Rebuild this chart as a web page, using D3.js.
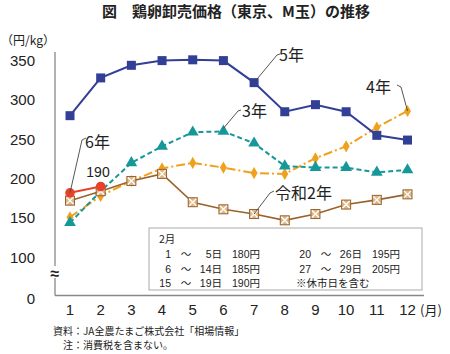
<!DOCTYPE html>
<html><head><meta charset="utf-8">
<script src="https://cdn.jsdelivr.net/npm/d3@7"></script>
<style>
body{margin:0;background:#fff;}
text{font-family:"Liberation Sans","Noto Sans CJK JP",sans-serif;}
.jp{font-family:"Noto Sans CJK JP","Noto Sans",sans-serif;}
</style></head>
<body><svg id="c" width="450" height="354"></svg>
<script>
const months = [1,2,3,4,5,6,7,8,9,10,11,12];
const yTicks = [0,100,150,200,250,300,350];
const r5 = [280,328,344,350,351,350,322,285,294,285,255,249];
const r3 = [144,184,220,241,259,260,245,216,214,214,208,211];
const r4 = [151,178,197,213,220,214,207,206,226,241,265,286];
const r2 = [172,184,197,206,170,161,155,147,155,167,173,180];
const r6 = [182,190];
const febHead = "2月";
const febRows = [["1","5","180"],["6","14","185"],["15","19","190"],["20","26","195"],["27","29","205"]];
const febNote = "※休市日を含む";

const svg = d3.select("#c");
const x = d3.scaleLinear().domain([1,12]).range([70,407.5]);
const y = d3.scaleLinear().domain([0,100,350]).range([296.5,257.3,60.6]);

// title
svg.append("text").attr("class","jp").attr("x",236).attr("y",17).attr("text-anchor","middle")
  .attr("font-size",15).attr("font-weight","bold").attr("fill","#222").text("図　鶏卵卸売価格（東京、M玉）の推移");
svg.append("text").attr("class","jp").attr("x",1).attr("y",45).attr("font-size",12).attr("fill","#222").text("（円/kg）");

// axes lines
svg.append("line").attr("x1",55).attr("x2",55).attr("y1",52).attr("y2",295.5).attr("stroke","#888").attr("stroke-width",1.3);
svg.append("line").attr("x1",55).attr("x2",424).attr("y1",295.5).attr("y2",295.5).attr("stroke","#888").attr("stroke-width",1.3);

// y tick labels
svg.selectAll(".yt").data(yTicks).join("text").attr("class","yt")
  .attr("x",35).attr("y",d=>y(d)+(d===0?2:0)).attr("dy","0.36em").attr("text-anchor","end")
  .attr("font-size",15).attr("fill","#222").text(d=>d);

// axis break
svg.append("rect").attr("x",48).attr("y",266).attr("width",14).attr("height",12).attr("fill","#fff");
svg.append("text").attr("x",55).attr("y",273).attr("dy","0.36em").attr("text-anchor","middle")
  .attr("font-size",16).attr("font-weight","bold").attr("fill","#222").text("≈");

// x tick labels
svg.selectAll(".xt").data(months).join("text").attr("class","xt")
  .attr("x",d=>x(d)).attr("y",310).attr("dy","0.36em").attr("text-anchor","middle")
  .attr("font-size",15).attr("fill","#222").text(d=>d);
svg.append("text").attr("class","jp").attr("x",420).attr("y",310).attr("dy","0.36em")
  .attr("font-size",13).attr("fill","#222").text("(月)");

// legend box
svg.append("rect").attr("x",149).attr("y",228).attr("width",273).attr("height",62)
  .attr("fill","#fff").attr("stroke","#aaa").attr("stroke-width",1);
const lg = svg.append("g").attr("class","jp").attr("font-size",10.5).attr("fill","#222");
lg.append("text").attr("x",159).attr("y",243).text(febHead).attr("class","jp");
febRows.forEach((r,i)=>{
  const col = i<3?0:1, row = i<3?i:i-3;
  const ox = col===0?0:140, oy = 258 + row*14.7;
  lg.append("text").attr("x",171+ox).attr("y",oy).attr("text-anchor","end").text(r[0]);
  lg.append("text").attr("x",186+ox).attr("y",oy).attr("text-anchor","middle").text("～");
  lg.append("text").attr("x",222+ox).attr("y",oy).attr("text-anchor","end").text(r[1]+"日");
  lg.append("text").attr("x",232+ox).attr("y",oy).text(r[2]+"円");
});
lg.append("text").attr("x",296).attr("y",258+2*14.7).text(febNote);

// lines
const line = d3.line().x((d,i)=>x(months[i])).y(d=>y(d));
function series(data,color,w,dash){
  svg.append("path").datum(data).attr("d",line).attr("fill","none").attr("stroke",color)
    .attr("stroke-width",w).attr("stroke-dasharray",dash||null);
}
const cBlue="#323f96", cTeal="#16989a", cOrange="#f0a01c", cBrown="#9a622c", cRed="#e8412a";
series(r4,cOrange,2,"9,3,2,3");
series(r3,cTeal,2,"5,3");
series(r2,cBrown,1.6);
series(r5,cBlue,2);
series(r6,cRed,2);

// markers
svg.selectAll(".m4").data(r4).join("path").attr("class","m4")
  .attr("d",d3.symbol(d3.symbolDiamond,42)).attr("transform",(d,i)=>`translate(${x(months[i])},${y(d)})`).attr("fill",cOrange);
svg.selectAll(".m3").data(r3).join("path").attr("class","m3")
  .attr("d",d3.symbol(d3.symbolTriangle,60)).attr("transform",(d,i)=>`translate(${x(months[i])},${y(d)})`).attr("fill",cTeal);
const g2 = svg.selectAll(".m2").data(r2).join("g").attr("class","m2")
  .attr("transform",(d,i)=>`translate(${x(months[i])},${y(d)})`);
g2.append("rect").attr("x",-4.5).attr("y",-4.5).attr("width",9).attr("height",9).attr("fill","#dcb88a").attr("stroke",cBrown).attr("stroke-width",1);
g2.append("path").attr("d","M-3.5,-3.5L3.5,3.5M-3.5,3.5L3.5,-3.5").attr("stroke","#fff").attr("stroke-width",1.3);
svg.selectAll(".m5").data(r5).join("rect").attr("class","m5")
  .attr("x",(d,i)=>x(months[i])-4.5).attr("y",d=>y(d)-4.5).attr("width",9).attr("height",9).attr("fill",cBlue);
svg.selectAll(".m6").data(r6).join("circle").attr("class","m6")
  .attr("cx",(d,i)=>x(months[i])).attr("cy",d=>y(d)).attr("r",4.8).attr("fill",cRed);

// annotations
function leader(pts){
  svg.append("path").attr("d",d3.line()(pts)).attr("fill","none").attr("stroke","#444").attr("stroke-width",0.9);
}
function label(t,xx,yy,fs){
  svg.append("text").attr("class","jp").attr("x",xx).attr("y",yy).attr("dy","0.36em")
    .attr("font-size",fs).attr("fill","#222").text(t);
}
leader([[280,54],[277,55],[x(7),y(r5[6])]]);
label("5年",279,55,16);
leader([[241,110],[238,111],[x(6),y(r3[5])-3]]);
label("3年",242,111,16);
leader([[397,85],[401,87],[x(12),y(r4[11])]]);
label("4年",366,87,16);
leader([[274,191],[270,193],[x(7),y(r2[6])]]);
label("令和2年",275,193,16);
leader([[86,138],[82,140],[x(1),y(r6[0])]]);
label("6年",85,142,16);
svg.append("text").attr("x",98).attr("y",172).attr("dy","0.36em").attr("text-anchor","middle")
  .attr("font-size",14).attr("fill","#222").text("190");

// footnotes
svg.append("text").attr("class","jp").attr("x",53).attr("y",335).attr("font-size",10).attr("fill","#222").text("資料：JA全農たまご株式会社「相場情報」");
svg.append("text").attr("class","jp").attr("x",63).attr("y",349).attr("font-size",10).attr("fill","#222").text("注：消費税を含まない。");
</script></body></html>
